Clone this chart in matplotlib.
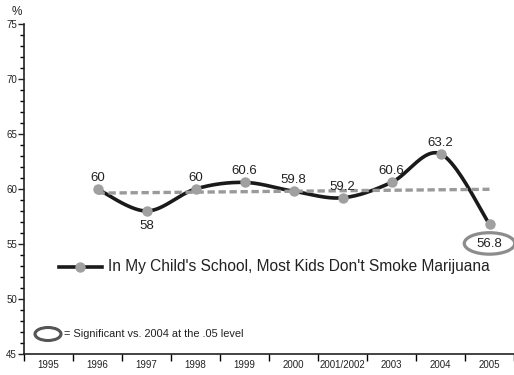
import numpy as np
import matplotlib
matplotlib.use("Agg")
import matplotlib.pyplot as plt
from matplotlib.patches import Ellipse
from matplotlib.ticker import MultipleLocator

plt.rcParams['font.family'] = ['Liberation Sans', 'DejaVu Sans']

# data
years = ['1995', '1996', '1997', '1998', '1999', '2000', '2001/2002', '2003', '2004', '2005']
series_years = ['1996', '1997', '1998', '1999', '2000', '2001/2002', '2003', '2004', '2005']
values = [60, 58, 60, 60.6, 59.8, 59.2, 60.6, 63.2, 56.8]
label_below = ['1997', '2005']
significant = ['2005']
series_name = "In My Child's School, Most Kids Don't Smoke Marijuana"

LINE_C = '#1a1a1a'
MARK_C = '#a0a0a0'
TREND_C = '#9a9a9a'
TEXT_C = '#222222'


def smooth(x, y, n=40):
    # bezier segments with catmull-rom style control points
    x = np.asarray(x, float)
    y = np.asarray(y, float)
    xs, ys = [], []
    for i in range(len(x) - 1):
        i0 = max(i - 1, 0)
        i3 = min(i + 2, len(x) - 1)
        p0 = np.array([x[i0], y[i0]])
        p1 = np.array([x[i], y[i]])
        p2 = np.array([x[i + 1], y[i + 1]])
        p3 = np.array([x[i3], y[i3]])
        c1 = p1 + (p2 - p0) / 6
        c2 = p2 - (p3 - p1) / 6
        t = np.linspace(0, 1, n)[:, None]
        pts = ((1 - t) ** 3 * p1 + 3 * (1 - t) ** 2 * t * c1
               + 3 * (1 - t) * t ** 2 * c2 + t ** 3 * p2)
        xs.append(pts[:, 0])
        ys.append(pts[:, 1])
    return np.concatenate(xs), np.concatenate(ys)


fig = plt.figure(figsize=(5.14, 3.75), dpi=100)
ax = fig.add_axes([24 / 514, 21 / 375, 490 / 514, 330 / 375])

xpos = [years.index(y) for y in series_years]

sx, sy = smooth(xpos, values)
ax.plot(sx, sy, color=LINE_C, lw=2.6, solid_capstyle='round', zorder=3)

# linear trend
k, b = np.polyfit(xpos, values, 1)
tx = np.array([xpos[0], xpos[-1]])
ax.plot(tx, k * tx + b, color=TREND_C, lw=2.4, dashes=(2.2, 1.1), zorder=4)

ax.plot(xpos, values, 'o', color=MARK_C, ms=6.5, mec=MARK_C, zorder=5)

for yr, xv, v in zip(series_years, xpos, values):
    lbl = f'{v:g}'
    if yr in label_below:
        off = -14 if yr in significant else -11
    else:
        off = 8
    ax.annotate(lbl, (xv, v), xytext=(0, off), textcoords='offset points',
                ha='center', va='center', fontsize=9.5, color=TEXT_C, zorder=6)
    if yr in significant:
        ax.add_patch(Ellipse((xv, v - 1.75), 1.03, 1.95, fill=False,
                             ec='#8c8c8c', lw=2.3, clip_on=False, zorder=6))

ax.set_xlim(-0.5, len(years) - 0.5)
ax.set_ylim(45, 75)
ax.set_yticks(range(45, 76, 5))
ax.yaxis.set_minor_locator(MultipleLocator(1))
ax.set_xticks(np.arange(-0.5, len(years), 1))
ax.set_xticklabels([])
ax.set_xticks(range(len(years)), minor=True)
ax.set_xticklabels(years, minor=True)

ax.tick_params(axis='y', which='major', length=4, width=1, labelsize=7, pad=1, colors=TEXT_C)
ax.tick_params(axis='y', which='minor', length=3, width=1)
ax.tick_params(axis='x', which='major', length=5, width=1)
ax.tick_params(axis='x', which='minor', length=0, labelsize=7, pad=4, labelcolor=TEXT_C)

for s in ['top', 'right']:
    ax.spines[s].set_visible(False)
for s in ['left', 'bottom']:
    ax.spines[s].set_linewidth(1.2)
    ax.spines[s].set_color(TEXT_C)

fig.text(17 / 514, 1 - 12 / 375, '%', ha='center', va='center', fontsize=8.5, color=TEXT_C)

# series legend
ly = 1 - 267 / 375
fig.add_artist(plt.Line2D([59 / 514, 102 / 514], [ly, ly], color=LINE_C, lw=2.6))
fig.add_artist(plt.Line2D([80 / 514], [ly], marker='o', color=MARK_C, ms=6.5))
fig.text(108 / 514, ly, series_name, ha='left', va='center', fontsize=11.2, color=TEXT_C)

# significance key
ky = 1 - 334 / 375
ax.add_patch(Ellipse((48 / 514, ky), 26 / 514, 13 / 375, transform=fig.transFigure,
                     fill=False, ec='#555555', lw=2.2, clip_on=False))
fig.text(64 / 514, ky, '= Significant vs. 2004 at the .05 level', ha='left', va='center',
         fontsize=7.9, color=TEXT_C)

fig.savefig('out.png', dpi=100)
